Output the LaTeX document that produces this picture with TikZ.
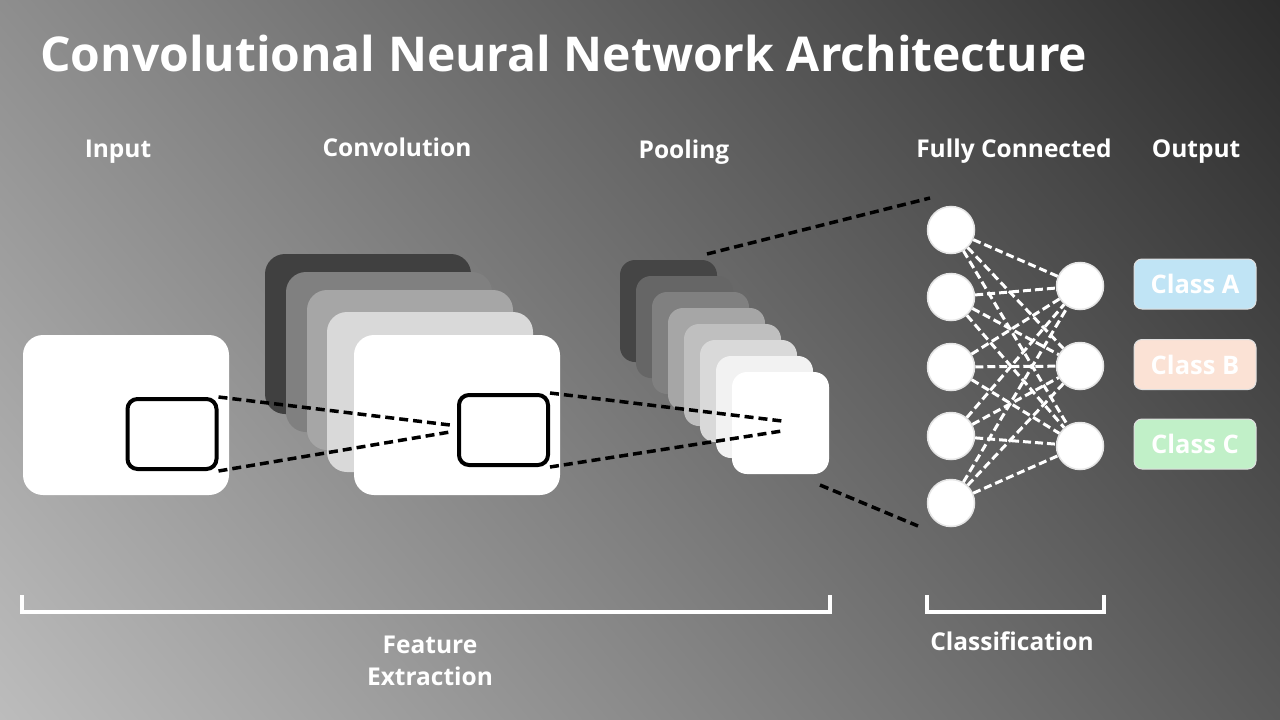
\documentclass[tikz,border=0pt]{standalone}
\usepackage{fontspec}
\setmainfont{Open Sans}
\usepackage{tikz}
\usetikzlibrary{positioning}
\usepackage{xcolor}
\definecolor{bglight}{HTML}{DADADA}
\definecolor{bgdark}{HTML}{0E0E0E}
\definecolor{clsA}{HTML}{C0E4F5}
\definecolor{clsB}{HTML}{FBE2D5}
\definecolor{clsC}{HTML}{C1F0C8}
\pgfdeclarehorizontalshading{bgfade}{100bp}{color(0bp)=(bglight); color(100bp)=(bgdark)}

\begin{document}
\begin{tikzpicture}[x=1pt, y=-1pt,
    lbl/.style={text=white, font=\bfseries\fontsize{24.5}{29}\selectfont},
    sheet/.style={fill=#1, rounded corners=20pt, minimum width=206pt, minimum height=160pt, inner sep=0pt},
    tile/.style={fill=#1, rounded corners=15pt, minimum width=97pt, minimum height=102pt, inner sep=0pt},
    window/.style={draw=black, fill=white, line width=4pt, rounded corners=10pt, minimum width=89pt, minimum height=70pt, inner sep=0pt},
    neuron/.style={circle, fill=white, draw=white!80!gray, line width=1.5pt, minimum size=47pt, inner sep=0pt},
    classbox/.style={fill=#1, draw=white!75!gray, line width=1pt, rounded corners=8pt, minimum width=122pt, minimum height=50pt, text=white, font=\bfseries\fontsize{25.5}{30}\selectfont},
    link/.style={black, line width=3.5pt, dash pattern=on 9pt off 5pt},
    wire/.style={white, line width=3pt, dash pattern=on 8pt off 4pt}]
			    		\shade[shading=bgfade, shading angle=40] (0,0) rectangle (1280,720);
			    		\useasboundingbox (0,0) rectangle (1280,720);
			    		% title and headings
						\node[anchor=base west, text=white, font=\bfseries\fontsize{48}{58}\selectfont, inner sep=0pt] (title) at (40,71) {Convolutional Neural Network Architecture};
						\node[lbl, anchor=base] (hin) at (118,157) {Input};
						\node[lbl, anchor=base] (hconv) at (397,156) {Convolution};
						\node[lbl, anchor=base] (hpool) at (684,158) {Pooling};
						\node[lbl, anchor=base] (hfc) at (1014,157) {Fully Connected};
						\node[lbl, anchor=base] (hout) at (1196,157) {Output};
			    		% input
						\node[sheet=white] (input) at (126,415) {};
						\node[window] (win1) at (172,434) {};
			    		% convolution stack
						\node[sheet=black!75] (conv1) at (368,334) {};
						\node[sheet=black!50] (conv2) at (389,352) {};
						\node[sheet=black!35] (conv3) at (410,370) {};
						\node[sheet=black!15] (conv4) at (430,392) {};
						\node[sheet=white] (conv5) at (457,415) {};
						\node[window] (win2) at (503.5,430) {};
			    		% pooling stack
						\foreach \i/\g in {0/73,1/60,2/50,3/35,4/25,5/15,6/5,7/0}
							\node[tile=black!\g] (pool\i) at (668.5+16*\i, 311+16*\i) {};
			    		% dashed projections
						\coordinate (cA) at (450,425);
						\coordinate (cB) at (450,432);
						\coordinate (pA) at (782,421);
						\coordinate (pB) at (782,431);
						\coordinate (fA) at (707,254);
						\coordinate (fB) at (930,198);
						\coordinate (fC) at (820,485);
						\coordinate (fD) at (918,526);
						\draw[link] (win1.north east) -- (cA);
						\draw[link] (win1.south east) -- (cB);
						\draw[link] (win2.north east) -- (pA);
						\draw[link] (win2.south east) -- (pB);
						\draw[link] (fA) -- (fB);
						\draw[link] (fC) -- (fD);
			    		% fully connected layer
						\foreach \i/\y in {1/230,2/297,3/367,4/436,5/503}
							\node[neuron] (h\i) at (951,\y) {};
						\foreach \j/\y in {1/286,2/366,3/446}
							\node[neuron] (o\j) at (1080,\y) {};
						\foreach \i in {1,...,5}
							\foreach \j in {1,2,3}
								\draw[wire] (h\i) -- (o\j);
			    		% output classes
						\node[classbox=clsA] (ca) at (1195,284) {Class A};
						\node[classbox=clsB] (cb) at (1195,364.5) {Class B};
						\node[classbox=clsC] (cc) at (1195,444) {Class C};
			    		% brackets
						\draw[white, line width=3.5pt] (22,595) -- (22,612) -- (830,612) -- (830,595);
						\draw[white, line width=3.5pt] (927,595) -- (927,612) -- (1104,612) -- (1104,595);
						\node[lbl, anchor=base] (fe) at (430,653) {Feature};
						\node[lbl, anchor=base] (fe2) at (430,685) {Extraction};
						\node[lbl, anchor=base] (cl) at (1012,650) {Classification};
			    	\end{tikzpicture}
\end{document}
